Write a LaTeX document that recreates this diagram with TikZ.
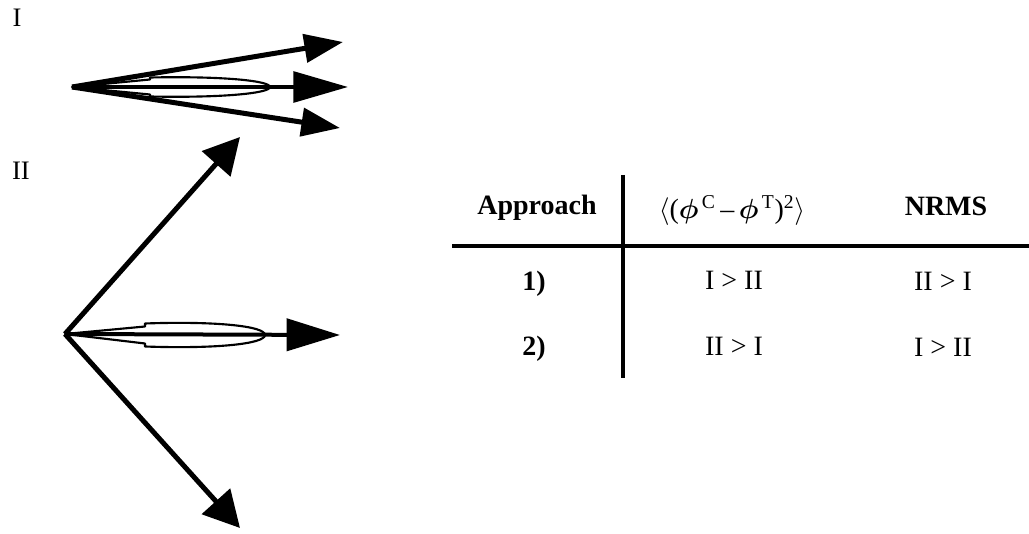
\documentclass[tikz,border=0pt]{standalone}
\usepackage{amsmath}
\usepackage{fontspec}
\setmainfont{Liberation Serif}
\usetikzlibrary{arrows.meta}
\tikzset{
  vec/.style={line width=3.75pt},
  midvec/.style={line width=3pt},
  lens/.style={line width=1.6pt, line join=round},
  lbl/.style={font=\fontsize{20}{24}\selectfont, inner sep=0pt},
  cell/.style={font=\fontsize{21}{25}\selectfont, anchor=base, inner sep=0pt},
  head/.style={font=\fontsize{21}{25}\selectfont\bfseries, anchor=base, inner sep=0pt},
  rule/.style={line width=3pt},
}
\begin{document}
\begin{tikzpicture}[x=0.75pt,y=-0.75pt]
\useasboundingbox (0,0) rectangle (1029,534);
% labels
\node[lbl] (lI) at (17,18) {I};
\node[lbl] (lII) at (21,171) {II};
% ---------- group I ----------
\coordinate (oI) at (72,87);
\coordinate (tI1) at (343,42);
\coordinate (tI2) at (348,87);
\coordinate (tI3) at (340,128);
\draw[lens] (oI) -- (150,79.5) -- (150,77.5) .. controls (225,76) and (270,81) .. (270,87)
  .. controls (270,93) and (225,98) .. (150,96.5) -- (150,94.5) -- cycle;
\draw[midvec,-{Triangle[length=41pt,width=23pt]}] (oI) -- (tI2);
\draw[vec,-{Triangle[length=29pt,width=21pt]}] (oI) -- (tI1);
\draw[vec,-{Triangle[length=29pt,width=21pt]}] (oI) -- (tI3);
% ---------- group II ----------
\coordinate (oII) at (65,334);
\coordinate (tII1) at (240,137);
\coordinate (tII2) at (340,335);
\coordinate (tII3) at (240,528);
\draw[lens] (oII) -- (145,326.5) -- (145,323.5) .. controls (215,321) and (265,326) .. (265,335)
  .. controls (265,344) and (215,349) .. (145,346.5) -- (145,343.5) -- cycle;
\draw[midvec,-{Triangle[length=40pt,width=24pt]}] (oII) -- (tII2);
\draw[vec,-{Triangle[length=27pt,width=28pt]}] (oII) -- (tII1);
\draw[vec,-{Triangle[length=27pt,width=28pt]}] (oII) -- (tII3);
% ---------- table ----------
\coordinate (vtop) at (623,175);
\coordinate (vbot) at (623,378);
\coordinate (hl) at (452,246);
\coordinate (hr) at (1029,246);
\draw[rule] (vtop) -- (vbot);
\draw[rule] (hl) -- (hr);
\node[head] (hA) at (537,215) {Approach};
\node[cell] (hF) at (732,219) {$\langle$($\boldsymbol{\phi}$\textsuperscript{\,C}\,–\,$\boldsymbol{\phi}$\textsuperscript{\,T})\textsuperscript{2}$\rangle$};
\node[head] (hN) at (946,216) {NRMS};
\node[head] (r1a) at (534,291) {1)};
\node[cell] (r1b) at (734,290) {I > II};
\node[cell] (r1c) at (943,291) {II > I};
\node[head] (r2a) at (534,356) {2)};
\node[cell] (r2b) at (734,356) {II > I};
\node[cell] (r2c) at (943,357) {I > II};
\end{tikzpicture}
\end{document}
